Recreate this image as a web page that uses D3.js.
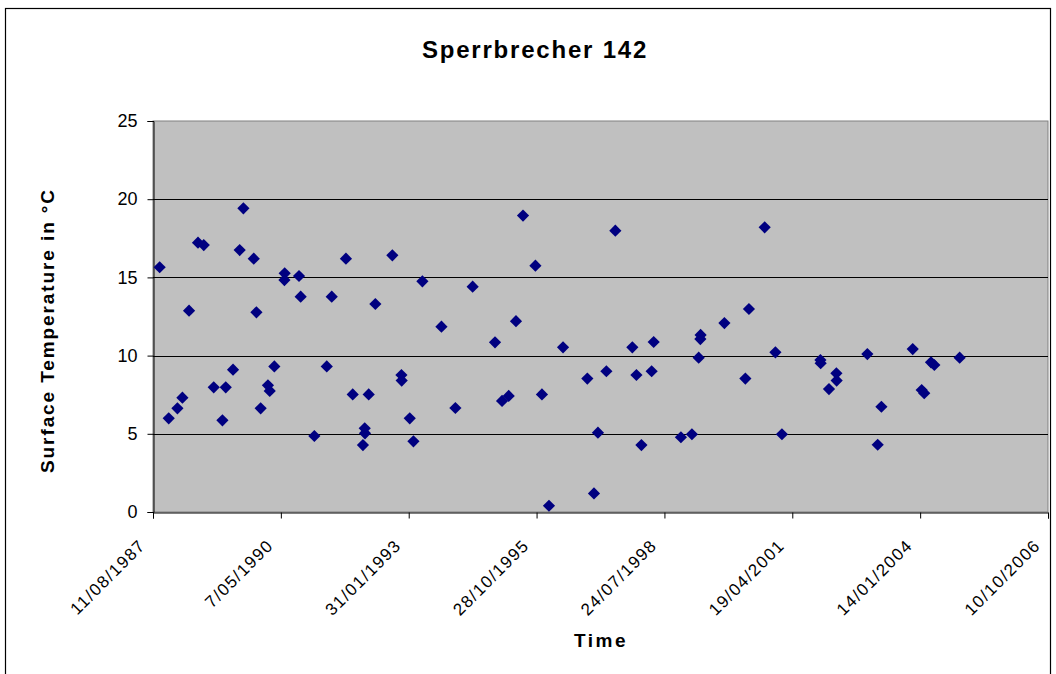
<!DOCTYPE html>
<html>
<head>
<meta charset="utf-8">
<script src="https://cdn.jsdelivr.net/npm/d3@7"></script>
<style>
  html, body { margin: 0; padding: 0; background: #ffffff; }
  svg { display: block; }
  text { font-family: "Liberation Sans", Arial, sans-serif; }
</style>
</head>
<body>
<svg id="chart" width="1056" height="674"></svg>
<script>
// Sampling dates and surface temperatures (°C) for the Sperrbrecher 142 site
const sampleDates = [
  "1987-10-02","1987-12-12","1988-02-18","1988-03-28","1988-05-19","1988-07-28",
  "1988-09-11","1988-11-28","1989-02-04","1989-03-02","1989-04-28","1989-06-19",
  "1989-07-18","1989-10-07","1989-10-28","1989-11-30","1990-01-26","1990-02-09",
  "1990-03-17","1990-06-06","1990-06-04","1990-09-26","1990-10-09","1991-01-24",
  "1991-05-01","1991-06-09","1991-09-28","1991-11-20","1992-02-08","1992-02-22",
  "1992-02-24","1992-03-24","1992-05-15","1992-09-25","1992-12-05","1992-12-07",
  "1993-02-08","1993-03-09","1993-05-18","1993-10-14","1994-01-31","1994-06-15",
  "1994-12-07","1995-01-31","1995-03-24","1995-05-20","1995-07-14","1995-10-19",
  "1995-12-09","1996-02-02","1996-05-22","1996-11-28","1997-01-19","1997-02-19",
  "1997-04-26","1997-07-05","1997-11-15","1997-12-17","1998-01-25","1998-04-15",
  "1998-05-01","1998-11-30","1999-02-24","1999-04-18","1999-05-01","1999-05-03",
  "1999-11-05","2000-04-17","2000-05-15","2000-09-15","2000-12-08","2001-01-28",
  "2001-11-25","2001-11-27","2002-01-31","2002-03-30","2002-04-01","2002-11-27",
  "2003-02-16","2003-03-17","2003-11-17","2004-01-26","2004-02-15","2004-04-08",
  "2004-05-04","2004-11-18"
];
const surfaceTemps = [
  15.65, 5.99, 6.63, 7.31, 12.87, 17.22,
  17.07, 7.97, 5.86, 7.97, 9.10, 16.75,
  19.42, 16.20, 12.77, 6.63, 8.10, 7.74,
  9.31, 15.26, 14.83, 15.09, 13.77, 4.86,
  9.31, 13.77, 16.20, 7.52, 4.28, 5.35,
  5.03, 7.52, 13.30, 16.41, 8.76, 8.40,
  5.99, 4.52, 14.75, 11.85, 6.65, 14.41,
  10.85, 7.10, 7.42, 12.20, 18.95, 15.75,
  7.52, 0.40, 10.53, 8.53, 1.19, 5.07,
  9.00, 17.99, 10.53, 8.76, 4.28, 9.00,
  10.87, 4.78, 4.97, 9.87, 11.06, 11.32,
  12.08, 8.53, 12.98, 18.20, 10.21, 4.97,
  9.72, 9.51, 7.86, 8.87, 8.40, 10.10,
  4.30, 6.73, 10.42, 7.80, 7.60, 9.57,
  9.40, 9.87
];

// Axis settings: date axis from 11/08/1987 with a tick every 1000 days
const axisStart = "1987-08-11";
const axisEnd = "2006-10-10";
const dayStep = 1000;
const tempTicks = [0, 5, 10, 15, 20, 25];

const parse = d3.utcParse("%Y-%m-%d");
const fmt = d3.utcFormat("%-d/%m/%Y");

const points = sampleDates.map((d, i) => ({ date: parse(d), temp: surfaceTemps[i] }));

const svg = d3.select("#chart");

// Outer chart frame
svg.append("rect")
  .attr("x", 5.5).attr("y", 8.5)
  .attr("width", 1045).attr("height", 700)
  .attr("fill", "#ffffff").attr("stroke", "#000000").attr("stroke-width", 1.2);

const plot = { left: 153, right: 1048, top: 121, bottom: 512 };

const x = d3.scaleUtc()
  .domain([parse(axisStart), parse(axisEnd)])
  .range([plot.left, plot.right]);

const y = d3.scaleLinear()
  .domain([0, 25])
  .range([plot.bottom, plot.top]);

// Plot area background
svg.append("rect")
  .attr("x", plot.left).attr("y", plot.top)
  .attr("width", plot.right - plot.left).attr("height", plot.bottom - plot.top)
  .attr("fill", "#c0c0c0")
  .attr("stroke", "#808080").attr("stroke-width", 1);

// Horizontal gridlines
svg.append("g")
  .selectAll("line")
  .data(tempTicks.filter(t => t > 0 && t < 25))
  .join("line")
  .attr("x1", plot.left).attr("x2", plot.right)
  .attr("y1", d => Math.round(y(d)) + 0.5).attr("y2", d => Math.round(y(d)) + 0.5)
  .attr("stroke", "#000000").attr("stroke-width", 1);

// Y axis
const yAxis = d3.axisLeft(y).tickValues(tempTicks).tickSize(6).tickPadding(10).tickFormat(d3.format("d"));
const gy = svg.append("g").attr("transform", `translate(${plot.left + 0.5},0)`).call(yAxis);
gy.select(".domain").attr("stroke", "#000000");
gy.selectAll(".tick line").attr("stroke", "#000000");
gy.selectAll(".tick text")
  .attr("font-size", 18).attr("fill", "#000000")
  .style("font-family", "'Liberation Sans', Arial, sans-serif");

// X axis with ticks every 1000 days
const xTickDates = d3.range(0, 8).map(k => d3.utcDay.offset(parse(axisStart), k * dayStep));
const xAxis = d3.axisBottom(x).tickValues(xTickDates).tickSize(6).tickFormat(fmt);
const gx = svg.append("g").attr("transform", `translate(0,${plot.bottom + 0.5})`).call(xAxis);
gx.select(".domain").attr("stroke", "#000000");
gx.selectAll(".tick line").attr("stroke", "#000000");
gx.selectAll(".tick text")
  .attr("font-size", 17).attr("fill", "#000000")
  .attr("letter-spacing", 1.4)
  .style("font-family", "'Liberation Sans', Arial, sans-serif")
  .attr("text-anchor", "end")
  .attr("dy", null)
  .attr("y", 0)
  .attr("transform", "translate(-7,34) rotate(-45)");

// Data markers: navy diamonds
const diamond = d3.symbol().type(d3.symbolDiamond2).size(95);
svg.append("g")
  .selectAll("path")
  .data(points)
  .join("path")
  .attr("d", diamond)
  .attr("transform", d => `translate(${x(d.date)},${y(d.temp)})`)
  .attr("fill", "#000080");

// Titles
svg.append("text")
  .attr("x", 535).attr("y", 58)
  .attr("text-anchor", "middle")
  .attr("font-size", 24).attr("font-weight", "bold")
  .attr("letter-spacing", 1.8)
  .text("Sperrbrecher 142");

svg.append("text")
  .attr("transform", `translate(54,${(plot.top + plot.bottom) / 2 + 14}) rotate(-90)`)
  .attr("text-anchor", "middle")
  .attr("font-size", 19).attr("font-weight", "bold")
  .attr("letter-spacing", 1.9)
  .text("Surface Temperature in °C");

svg.append("text")
  .attr("x", 601).attr("y", 647)
  .attr("text-anchor", "middle")
  .attr("font-size", 19).attr("font-weight", "bold")
  .attr("letter-spacing", 2.5)
  .text("Time");
</script>
</body>
</html>
